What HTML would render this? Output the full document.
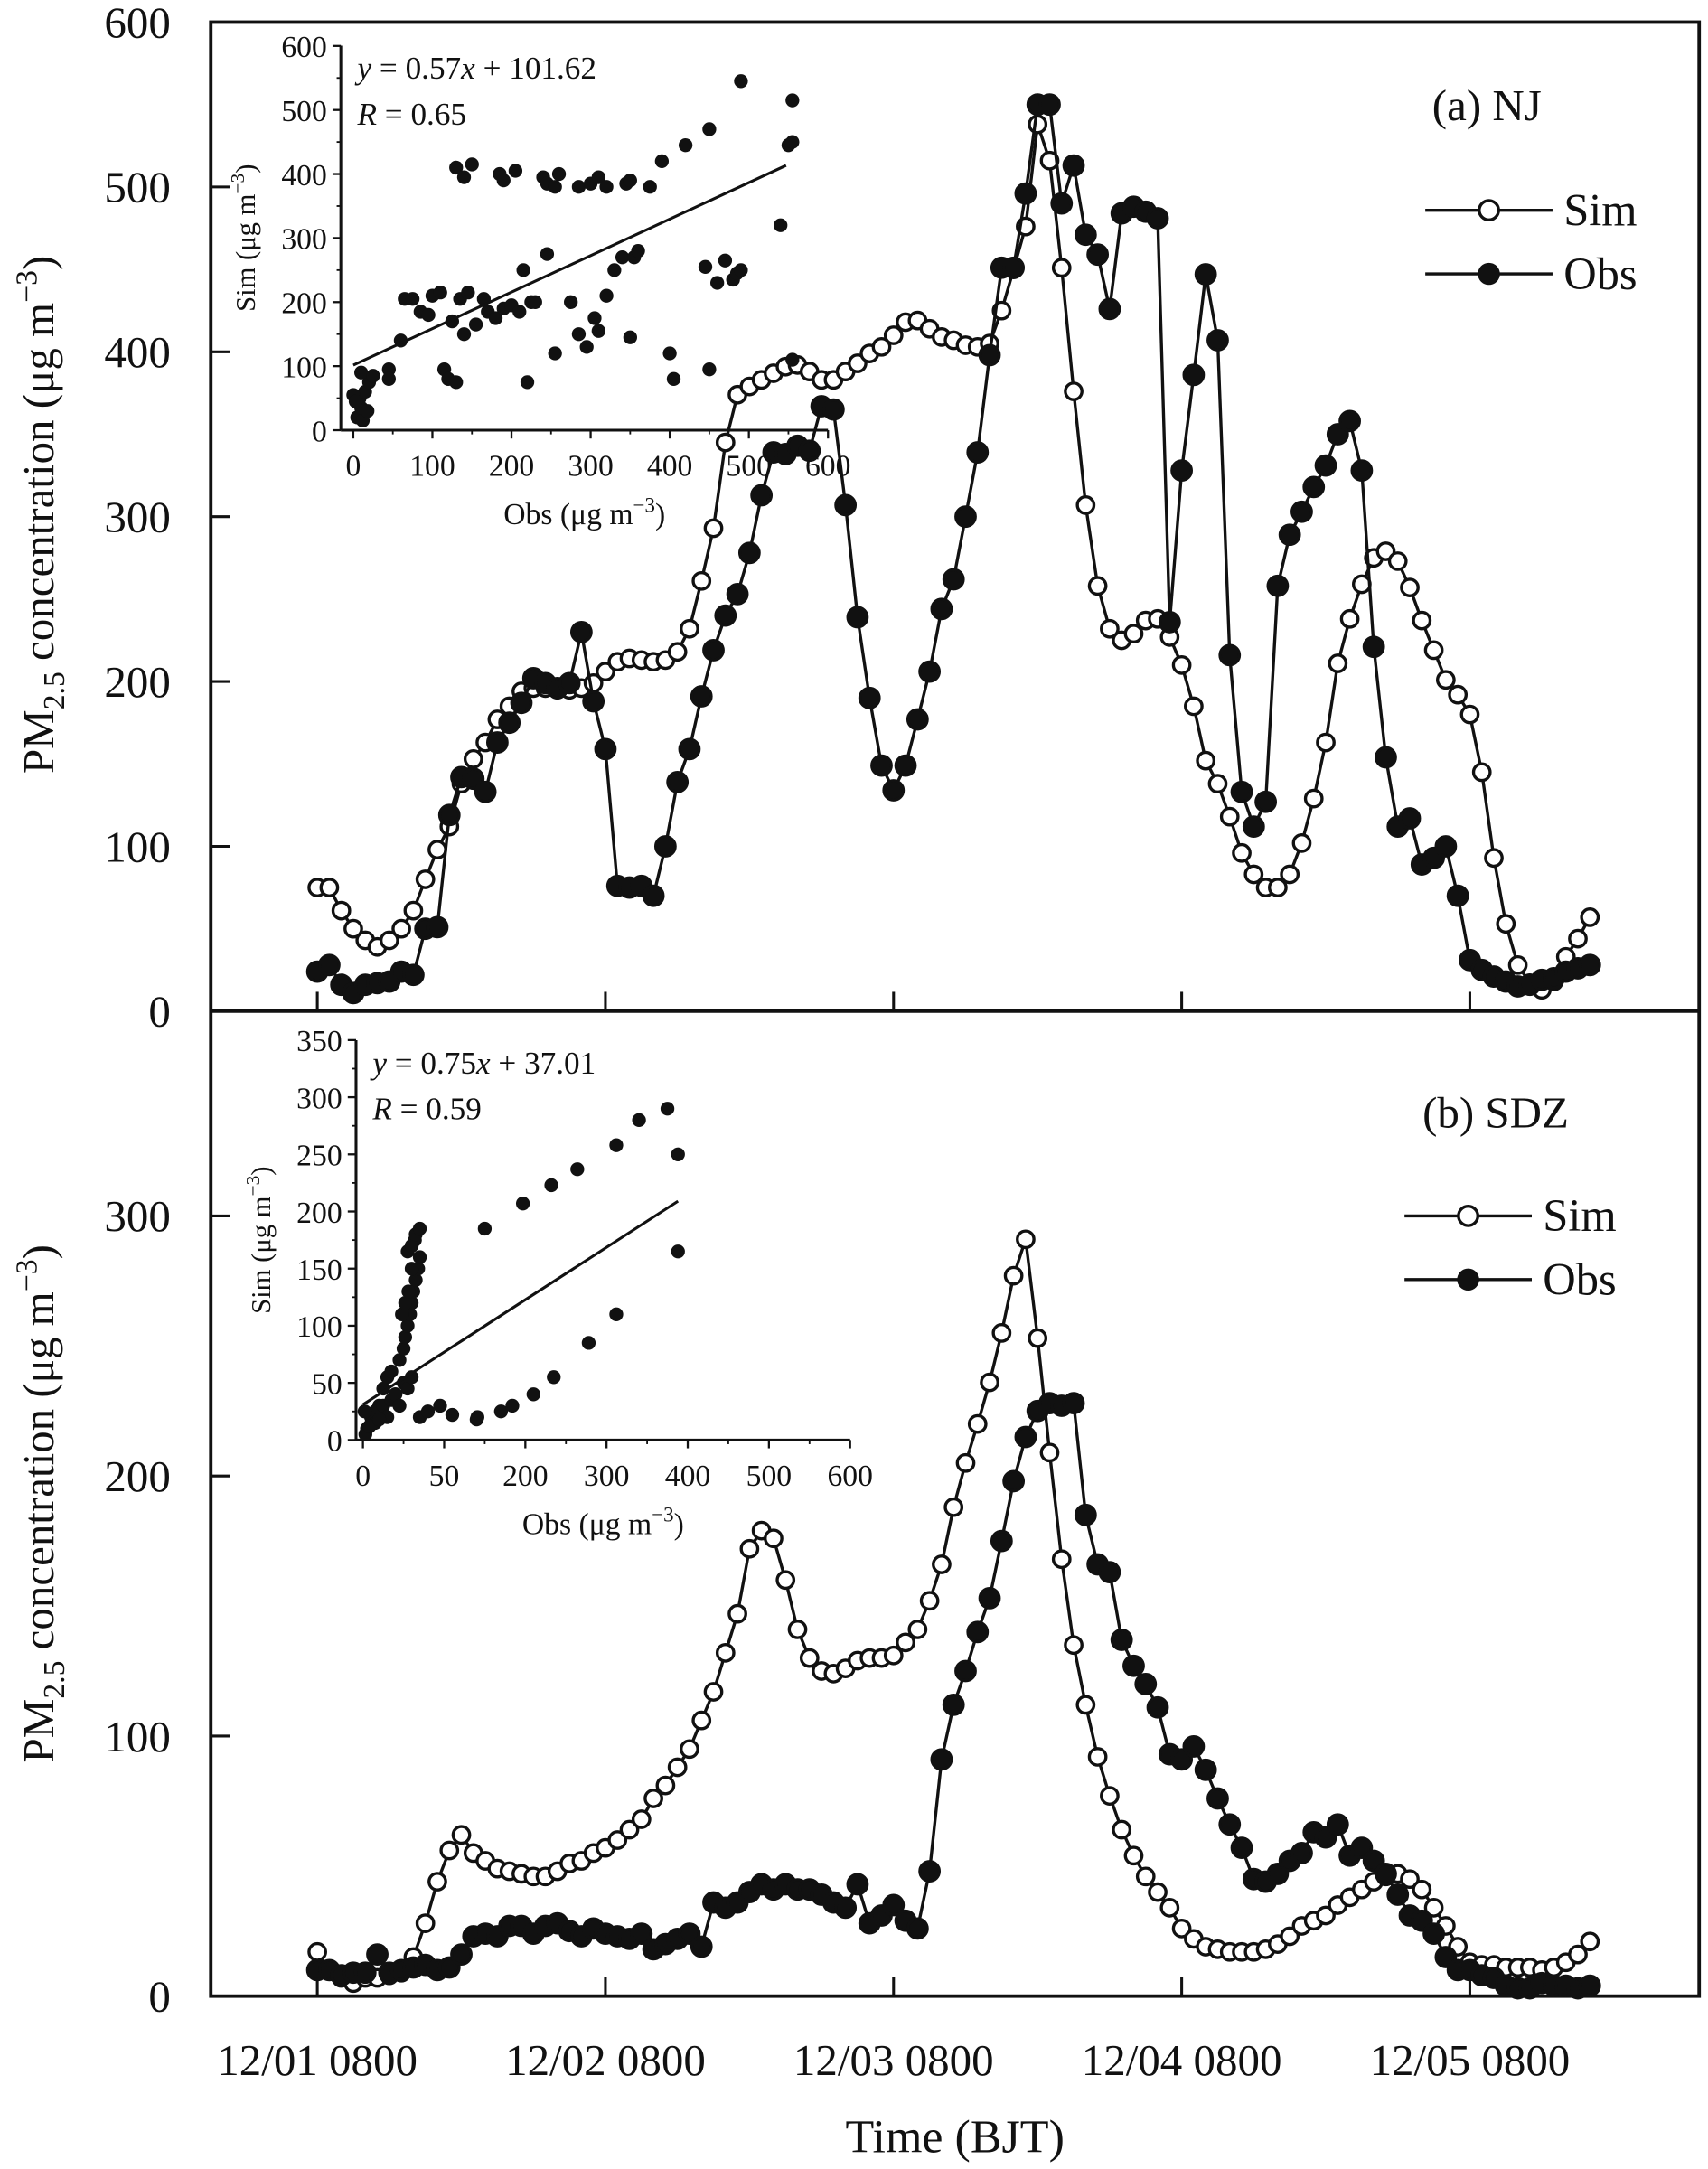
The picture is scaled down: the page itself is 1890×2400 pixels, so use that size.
<!DOCTYPE html>
<html><head><meta charset="utf-8"><style>
html,body{margin:0;padding:0;background:#fff}
svg{display:block}
text{font-family:"Liberation Serif","Times New Roman",serif;fill:#111}
</style></head><body>
<svg id="c" width="1890" height="2400" viewBox="0 0 1234 1568" xmlns="http://www.w3.org/2000/svg" font-family="Liberation Serif, serif"></svg>
<script>
// ===== Data =====
const hoursCount = 107;
const xTickLabels = ["12/01 0800","12/02 0800","12/03 0800","12/04 0800","12/05 0800"];
const xTickHours = [0,24,48,72,96];
const yTicksA = [0,100,200,300,400,500,600];
const yTicksB = [0,100,200,300];
const simA = [75,75,61,50,43,39,43,50,61,80,98,112,138,153,163,177,185,194,196,196,195,195,196,199,206,212,214,213,212,213,218,232,261,293,345,374,379,383,387,391,392,388,383,383,388,393,399,403,410,418,419,414,409,407,404,403,405,425,450,476,538,516,451,376,307,258,232,225,229,237,238,227,210,185,152,138,118,96,83,75,75,83,102,129,163,211,238,259,275,279,273,257,237,219,201,192,180,145,93,53,28,17,13,18,33,44,57];
const obsA = [24,28,16,11,16,17,18,24,22,50,51,119,142,141,133,163,175,187,202,199,196,199,230,188,159,76,75,76,70,100,139,159,191,219,240,253,278,313,339,338,343,340,367,365,307,239,190,149,134,149,177,206,244,262,300,339,398,451,451,496,550,550,490,513,471,459,426,484,488,485,481,236,328,386,447,407,216,133,112,127,258,289,303,318,331,350,358,328,221,154,112,117,89,93,100,70,31,25,21,18,15,16,19,20,24,26,28];
const simB = [17,10,7,5,7,7,8,9,15,28,44,56,62,55,52,49,48,47,46,46,48,51,52,55,57,60,64,68,76,81,88,95,106,117,132,147,172,179,176,160,141,130,125,124,126,129,130,130,131,136,141,152,166,188,205,220,236,255,277,291,253,209,168,135,112,92,77,64,54,46,40,34,26,22,19,18,17,17,17,18,20,23,27,29,31,35,38,41,44,46,47,45,41,34,27,19,13,12,12,11,11,11,10,11,13,16,21];
const obsB = [10,10,8,9,9,16,9,10,11,12,10,11,16,23,24,23,27,27,24,27,28,25,23,26,24,23,22,24,18,20,22,24,19,36,34,36,40,43,41,43,41,41,39,36,34,43,28,31,35,29,26,48,91,112,125,140,153,175,198,215,225,228,227,228,185,166,163,137,127,120,111,93,91,96,87,76,66,57,45,44,47,52,55,63,61,66,54,57,52,47,39,31,29,24,15,10,10,8,7,4,3,3,5,4,4,3,4];
// inset scatter (obs, sim)
const scatAobs = [5,10,8,15,20,10,25,45,45,60,65,75,85,95,100,110,115,120,125,130,135,140,145,155,165,170,180,190,200,210,215,220,225,230,245,255,275,285,295,305,310,320,330,340,350,355,360,400,405,445,450,460,470,480,485,490,540,550,555,130,140,150,185,190,205,240,245,255,260,285,300,310,320,345,350,375,390,420,450,490,555,555,0,3,12,18];
const scatAsim = [20,35,50,60,75,90,85,95,80,140,205,205,185,180,210,215,95,80,170,75,205,150,215,165,205,185,175,190,195,185,250,75,200,200,275,120,200,150,130,175,155,210,250,270,145,270,280,120,80,255,95,230,265,235,245,250,320,445,110,410,395,415,400,390,405,395,385,380,400,380,385,395,380,385,390,380,420,445,470,545,515,450,55,45,15,30];
const scatBobs = [5,10,15,20,25,30,35,40,45,50,52,55,58,60,62,65,68,70,48,52,56,60,64,55,60,65,70,15,25,30,35,40,45,50,55,60,70,80,95,110,140,170,150,197,232,264,312,340,375,388,388,141,184,210,235,278,312,3,8,2,20];
const scatBsim = [10,20,15,30,45,55,60,40,70,80,90,100,110,120,130,140,150,160,110,120,130,150,175,165,170,180,185,25,30,20,35,40,30,50,45,55,20,25,30,22,18,25,185,207,223,237,258,280,290,250,165,20,30,40,55,85,110,5,12,25,18];
const fitAslope = 0.57, fitAint = 101.62, fitAmax = 547;
const fitB = [[0,31],[388,209]];
const insetAxTicks = [0,100,200,300,400,500,600];
const insetAyTicks = [0,100,200,300,400,500,600];
const insetBxTickLabels = ["0","50","200","300","400","500","600"];
const insetByTicks = [0,50,100,150,200,250,300,350];

// ===== Drawing =====
const svg = document.getElementById('c');
const NS = "http://www.w3.org/2000/svg";
function el(tag, attrs, parent){const e=document.createElementNS(NS,tag);for(const k in attrs)e.setAttribute(k,attrs[k]);(parent||svg).appendChild(e);return e;}
function txt(s, attrs, parent){const t=el('text',attrs,parent);t.textContent=s;return t;}

const X0=229, X1=1149;
const xh = h => X0 + h*(X1-X0)/(hoursCount-1);
const yA = v => 731 - v*(715/600);
const yB = v => 1443 - v*1.88;

const fr=el('rect',{x:152,y:16,width:1076,height:1427,fill:'none',stroke:'#111','stroke-width':2.5});

const mid=el('line',{x1:152,x2:1228,y1:731,y2:731,stroke:'#111','stroke-width':2.5});


yTicksA.forEach(v=>{const y=yA(v);
 el('line',{x1:152,x2:166,y1:y,y2:y,stroke:'#111','stroke-width':2});
 const t=txt(String(v),{x:123,y:y+11,'font-size':32,'text-anchor':'end'});
 });
yTicksB.forEach(v=>{const y=yB(v);
 el('line',{x1:152,x2:166,y1:y,y2:y,stroke:'#111','stroke-width':2});
 const t=txt(String(v),{x:123,y:y+11,'font-size':32,'text-anchor':'end'});
 });
xTickHours.forEach((h,i)=>{const x=xh(h);
 el('line',{x1:x,x2:x,y1:1443,y2:1429,stroke:'#111','stroke-width':2});
 el('line',{x1:x,x2:x,y1:731,y2:717,stroke:'#111','stroke-width':2});
 const t=txt(xTickLabels[i],{x:x,y:1500,'font-size':32,'text-anchor':'middle'});
 });
const xt=txt('Time (BJT)',{x:690,y:1556,'font-size':34,'text-anchor':'middle'});


function ytitle(cy,name){const g=el('text',{transform:`translate(38,${cy}) rotate(-90)`,'font-size':32,'text-anchor':'middle'});
 
 g.innerHTML='PM<tspan font-size="22" dy="8">2.5</tspan><tspan dy="-8"> concentration (μg m</tspan><tspan font-size="22" dy="-12">−3</tspan><tspan dy="12">)</tspan>';}
ytitle(372,'y-axis-title-a');ytitle(1087,'y-axis-title-b');

function series(vals, yf, filled, name){
 const g=el('g',{});
 el('polyline',{points:vals.map((v,i)=>xh(i)+','+yf(v)).join(' '),fill:'none',stroke:'#111','stroke-width':2.2},g);
 vals.forEach((v,i)=>{const c=el('circle',{cx:xh(i),cy:yf(v),r:filled?7:6,fill:filled?'#111':'#fff',stroke:'#111','stroke-width':2.2},g);
  });
}
series(simA,yA,false,'sim-series-a');
series(obsA,yA,true,'obs-series-a');
series(simB,yB,false,'sim-series-b');
series(obsB,yB,true,'obs-series-b');

function legend(x,y1,y2,lbl,lx,ly,name){
 const g=el('g',{});
 el('line',{x1:x,x2:x+92,y1:y1,y2:y1,stroke:'#111','stroke-width':2.2},g);
 el('circle',{cx:x+46,cy:y1,r:7,fill:'#fff',stroke:'#111','stroke-width':2.2},g);
 txt('Sim',{x:x+100,y:y1+11,'font-size':33},g);
 el('line',{x1:x,x2:x+92,y1:y2,y2:y2,stroke:'#111','stroke-width':2.2},g);
 el('circle',{cx:x+46,cy:y2,r:8,fill:'#111'},g);
 txt('Obs',{x:x+100,y:y2+11,'font-size':33},g);
 txt(lbl,{x:lx,y:ly,'font-size':32},g);
}
legend(1030,152,198,'(a) NJ',1035,87,'legend-a');
legend(1015,879,925,'(b) SDZ',1028,815,'legend-b');

function inset(cfg){
 const g=el('g',{});
 const {ax,ay0,ox,sx,sy,xmax}=cfg;
 const px=v=>ox+v*sx, py=v=>ay0-v*sy;
 el('line',{x1:ax,x2:ax,y1:cfg.top,y2:ay0,stroke:'#111','stroke-width':2},g);
 el('line',{x1:ax,x2:px(xmax),y1:ay0,y2:ay0,stroke:'#111','stroke-width':2},g);
 cfg.yticks.forEach((v,i)=>{el('line',{x1:ax-6,x2:ax,y1:py(v),y2:py(v),stroke:'#111','stroke-width':1.5},g);
  if(i<cfg.yticks.length-1){const m=(v+cfg.yticks[i+1])/2;el('line',{x1:ax-3,x2:ax,y1:py(m),y2:py(m),stroke:'#111','stroke-width':1.2},g);}
  txt(String(v),{x:ax-10,y:py(v)+8,'font-size':22,'text-anchor':'end'},g);});
 cfg.xlabels.forEach((s,i)=>{const x=px(i*100);
  el('line',{x1:x,x2:x,y1:ay0,y2:ay0+6,stroke:'#111','stroke-width':1.5},g);
  if(i<cfg.xlabels.length-1)el('line',{x1:x+50*sx,x2:x+50*sx,y1:ay0,y2:ay0+3,stroke:'#111','stroke-width':1.2},g);
  txt(s,{x:x,y:ay0+33,'font-size':22,'text-anchor':'middle'},g);});
 const xt=el('text',{x:(ax+px(xmax))/2,y:ay0+68,'font-size':22,'text-anchor':'middle'},g);
 xt.innerHTML='Obs (μg m<tspan font-size="15" dy="-9">−3</tspan><tspan dy="9">)</tspan>';
 const yt=el('text',{transform:`translate(${ax-62},${(cfg.top+ay0)/2}) rotate(-90)`,'font-size':20,'text-anchor':'middle'},g);
 yt.innerHTML='Sim (μg m<tspan font-size="14" dy="-8">−3</tspan><tspan dy="8">)</tspan>';
 cfg.obs.forEach((o,i)=>{const c=el('circle',{cx:px(o),cy:py(cfg.sim[i]),r:5,fill:'#111'},g);
  });
 el('line',{x1:px(cfg.fit[0][0]),y1:py(cfg.fit[0][1]),x2:px(cfg.fit[1][0]),y2:py(cfg.fit[1][1]),stroke:'#111','stroke-width':2},g);
 const e=el('text',{x:ax+12,y:cfg.top+24,'font-size':23},g);e.innerHTML=cfg.eq;
 const r=el('text',{x:ax+12,y:cfg.top+57,'font-size':23},g);r.innerHTML=cfg.r;
}
inset({name:'inset-scatter-a',ax:246,ay0:311,top:33,ox:255,sx:0.572,sy:0.463,xmax:600,
 yticks:insetAyTicks,xlabels:insetAxTicks.map(String),obs:scatAobs,sim:scatAsim,
 fit:[[0,fitAint],[fitAmax,fitAslope*fitAmax+fitAint]],
 eq:'<tspan font-style="italic">y</tspan> = 0.57<tspan font-style="italic">x</tspan> + 101.62',r:'<tspan font-style="italic">R</tspan> = 0.65'});
inset({name:'inset-scatter-b',ax:257,ay0:1041,top:752,ox:262,sx:0.587,sy:0.826,xmax:600,
 yticks:insetByTicks,xlabels:insetBxTickLabels,obs:scatBobs,sim:scatBsim,fit:fitB,
 eq:'<tspan font-style="italic">y</tspan> = 0.75<tspan font-style="italic">x</tspan> + 37.01',r:'<tspan font-style="italic">R</tspan> = 0.59'});
</script>
</body></html>
